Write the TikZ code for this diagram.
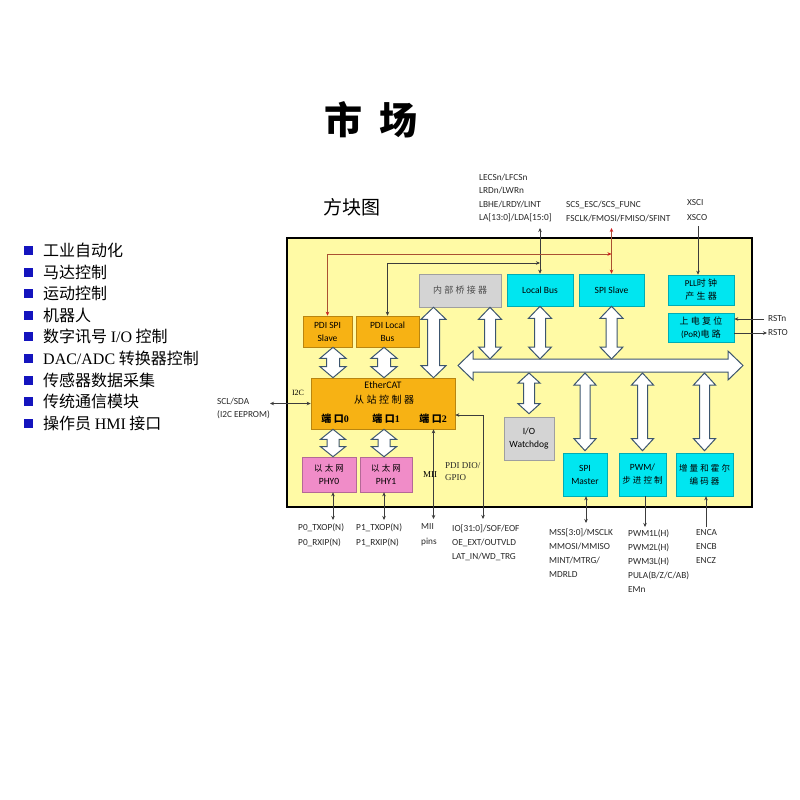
\documentclass[tikz,border=0pt]{standalone}
\usepackage{fontspec}
\setmainfont{Carlito}
\newfontfamily\cjk{Noto Sans CJK SC}
\newfontfamily\cjksp[LetterSpace=25]{Noto Sans CJK SC}
\newfontfamily\rmserif{Liberation Serif}
\usetikzlibrary{calc,arrows.meta}

\definecolor{bgyellow}{RGB}{255,250,165}
\definecolor{ecatorange}{RGB}{247,178,20}
\definecolor{ipcyan}{RGB}{0,230,240}
\definecolor{phypink}{RGB}{240,140,200}
\definecolor{ipgray}{RGB}{212,212,212}
\definecolor{arrowedge}{RGB}{60,85,110}
\definecolor{siggray}{RGB}{60,60,60}
\definecolor{sigbrown}{RGB}{170,80,50}
\definecolor{tipred}{RGB}{210,30,30}
\definecolor{labelgray}{RGB}{40,40,40}
\definecolor{bulletblue}{RGB}{20,20,190}

\tikzset{
  blockarrow/.style={draw=arrowedge, fill=white, line width=1pt, line join=miter},
  ipbox/.style={draw=#1!75!black, fill=#1, line width=0.6pt, inner sep=0pt,
    align=center, font=\fontsize{9.5}{13}\selectfont},
  sig/.style={draw=siggray, line width=0.6pt},
  redsig/.style={draw=sigbrown, line width=0.6pt,
    {Stealth[length=4pt,width=3.5pt,color=tipred]}-{Stealth[length=4pt,width=3.5pt,color=tipred]}},
  pinlabel/.style={anchor=north west, inner sep=0pt, align=left, text=labelgray,
    font=\fontsize{9.3}{14}\selectfont},
  listitem/.style={anchor=west, inner sep=0pt, font=\fontsize{16}{16}\selectfont\cjk,
    label={[fill=bulletblue, minimum size=9pt, inner sep=0pt, xshift=-10pt]left:{}}}
}

% outlined block arrows: first point gives x, second gives the other end
\newcommand{\vblkarrow}[5]{%
  \path[blockarrow] let \p1=#1, \p2=#2 in
    (\x1,\y1) -- (\x1+#4,\y1-#5) -- (\x1+#3,\y1-#5) -- (\x1+#3,\y2+#5)
    -- (\x1+#4,\y2+#5) -- (\x1,\y2) -- (\x1-#4,\y2+#5) -- (\x1-#3,\y2+#5)
    -- (\x1-#3,\y1-#5) -- (\x1-#4,\y1-#5) -- cycle;}
\newcommand{\hblkarrow}[5]{%
  \path[blockarrow] let \p1=#1, \p2=#2 in
    (\x1,\y1) -- (\x1+#5,\y1+#4) -- (\x1+#5,\y1+#3) -- (\x2-#5,\y1+#3)
    -- (\x2-#5,\y1+#4) -- (\x2,\y1) -- (\x2-#5,\y1-#4) -- (\x2-#5,\y1-#3)
    -- (\x1+#5,\y1-#3) -- (\x1+#5,\y1-#4) -- cycle;}

\begin{document}
\begin{tikzpicture}[x=1pt, y=-1pt, >={Stealth[length=4pt,width=3.5pt]}]
\useasboundingbox (0,0) rectangle (800,800);

% titles
\node[font=\fontsize{38}{38}\selectfont\cjk\bfseries] (title) at (371,120) {市\hspace{17pt}场};
\node[font=\fontsize{19}{19}\selectfont\cjk] (subtitle) at (352,207) {方块图};

% application list
\node[listitem] (app1) at (43,250.5) {工业自动化};
\node[listitem] (app2) at (43,272.1) {马达控制};
\node[listitem] (app3) at (43,293.7) {运动控制};
\node[listitem] (app4) at (43,315.3) {机器人};
\node[listitem] (app5) at (43,336.9) {数字讯号 {\rmserif I/O} 控制};
\node[listitem] (app6) at (43,358.5) {{\rmserif DAC/ADC} 转换器控制};
\node[listitem] (app7) at (43,380.1) {传感器数据采集};
\node[listitem] (app8) at (43,401.7) {传统通信模块};
\node[listitem] (app9) at (43,423.3) {操作员 {\rmserif HMI} 接口};

% chip outline
\draw[line width=2.5pt, fill=bgyellow] (287,238) rectangle (752,507);

% blocks
\node[ipbox=ecatorange, minimum width=49, minimum height=31] (pdispi) at (327.5,331.5) {PDI SPI\\Slave};
\node[ipbox=ecatorange, minimum width=63, minimum height=31] (pdilb) at (387.5,331.5) {PDI Local\\Bus};
\node[ipbox=ipgray, minimum width=82, minimum height=33, text=black!70] (bridge) at (460,290.5) {\fontsize{9}{12}\cjksp 内部桥接器};
\node[ipbox=ipcyan, minimum width=66, minimum height=32] (lbus) at (540,290) {Local Bus};
\node[ipbox=ipcyan, minimum width=65, minimum height=32] (spis) at (611.5,290) {SPI Slave};
\node[ipbox=ipcyan, minimum width=66, minimum height=30, font=\fontsize{9}{13}\selectfont] (pll) at (701,290) {PLL{\cjksp 时钟}\\{\cjksp 产生器}};
\node[ipbox=ipcyan, minimum width=66, minimum height=29, font=\fontsize{9}{13}\selectfont] (por) at (701,327.5) {{\cjksp 上电复位}\\(PoR){\cjksp 电路}};
\node[ipbox=ecatorange, minimum width=144, minimum height=51] (ecat) at (383,403.5) {};
\node[font=\fontsize{10}{10}\selectfont] (ecatname) at (383,385) {EtherCAT};
\node[font=\fontsize{10}{10}\selectfont\cjksp] (ecatsub) at (384,400) {从站控制器};
\node[font=\fontsize{10}{10}\selectfont\cjksp\bfseries] (port0) at (335,419) {端口{\rmserif\bfseries 0}};
\node[font=\fontsize{10}{10}\selectfont\cjksp\bfseries] (port1) at (386,419) {端口{\rmserif\bfseries 1}};
\node[font=\fontsize{10}{10}\selectfont\cjksp\bfseries] (port2) at (433,419) {端口{\rmserif\bfseries 2}};
\node[ipbox=phypink, minimum width=54, minimum height=35] (phy0) at (329,474.5) {{\fontsize{8.5}{12}\cjksp 以太网}\\PHY0};
\node[ipbox=phypink, minimum width=52, minimum height=35] (phy1) at (386,474.5) {{\fontsize{8.5}{12}\cjksp 以太网}\\PHY1};
\node[ipbox=ipgray, minimum width=50, minimum height=43] (wdog) at (529,438.5) {I/O\\Watchdog};
\node[ipbox=ipcyan, minimum width=44, minimum height=43] (spim) at (585,474.5) {SPI\\Master};
\node[ipbox=ipcyan, minimum width=47, minimum height=43] (pwm) at (642.5,474.5) {PWM/\\{\fontsize{8.5}{12}\cjksp 步进控制}};
\node[ipbox=ipcyan, minimum width=57, minimum height=43] (enc) at (704.5,474.5) {{\fontsize{8.5}{12}\cjksp 增量和霍尔}\\{\fontsize{8.5}{12}\cjksp 编码器}};

% internal bus and block arrows
\coordinate (busW) at (458,365.5);
\coordinate (busE) at (743,365.5);
\coordinate (bustop) at (458,359);
\coordinate (busbot) at (458,373);
\coordinate (p0pin) at (333,520);
\coordinate (p1pin) at (384,520);
\coordinate (miipin) at (433.5,519);
\hblkarrow{(busW)}{(busE)}{6.5pt}{14.5pt}{15pt}
\vblkarrow{(miipin |- bridge.south)}{(ecat.north)}{6pt}{12.5pt}{12pt}
\vblkarrow{([xshift=30pt]bridge.south)}{(bustop)}{5.5pt}{11.5pt}{12pt}
\vblkarrow{(lbus.south)}{(bustop)}{5.5pt}{11.5pt}{12pt}
\vblkarrow{(spis.south)}{(bustop)}{5.5pt}{11.5pt}{12pt}
\vblkarrow{(wdog.north |- busbot)}{([yshift=3pt]wdog.north)}{5.5pt}{11pt}{10pt}
\vblkarrow{(spim.north |- busbot)}{([yshift=2pt]spim.north)}{5pt}{11pt}{12pt}
\vblkarrow{(pwm.north |- busbot)}{([yshift=2pt]pwm.north)}{5pt}{11pt}{12pt}
\vblkarrow{(enc.north |- busbot)}{([yshift=2pt]enc.north)}{5pt}{11pt}{12pt}
\vblkarrow{(p0pin |- pdispi.south)}{(ecat.north)}{6.5pt}{13pt}{11pt}
\vblkarrow{(p1pin |- pdilb.south)}{(ecat.north)}{6.5pt}{13pt}{11pt}
\vblkarrow{(p0pin |- ecat.south)}{(phy0.north)}{6pt}{12.5pt}{10pt}
\vblkarrow{(p1pin |- ecat.south)}{(phy1.north)}{6pt}{12.5pt}{10pt}

% signal lines
\coordinate (lbpin) at (540,228);
\coordinate (spipin) at (611.5,228);
\coordinate (xscopin) at (698,226);
\coordinate (spitap) at (611.5,254);
\coordinate (lbtap) at (540,263);
\coordinate (rstnpin) at (764,319);
\coordinate (rstopin) at (767,333);
\coordinate (sclpin) at (270,403.5);
\coordinate (diopin) at (483,519);
\coordinate (smpin) at (586,523);
\coordinate (pwmpin) at (645,527);
\coordinate (encpin) at (706,527);
\draw[sig, <->] (lbpin) -- (lbus.north);
\draw[redsig] (spipin) -- (spis.north);
\draw[sig, ->] (xscopin) -- (xscopin |- pll.north);
\draw[redsig] (pdispi.north) |- (spitap);
\draw[sig, <->] (pdilb.north) |- (lbtap);
\draw[sig, ->] (rstnpin) -- (rstnpin -| por.east);
\draw[sig, ->] (rstopin -| por.east) -- (rstopin);
\draw[sig, <->] (sclpin) -- (ecat.west);
\draw[sig, <->] (p0pin |- phy0.south) -- (p0pin);
\draw[sig, <->] (p1pin |- phy1.south) -- (p1pin);
\draw[sig, <->] (miipin |- ecat.south) -- (miipin);
\draw[sig, <->] ([yshift=-11.5pt]ecat.east) -| (diopin);
\draw[sig, <->] (smpin |- spim.south) -- (smpin);
\draw[sig, ->] (pwmpin |- pwm.south) -- (pwmpin);
\draw[sig, ->] (encpin) -- (encpin |- enc.south);

% pin names
\node[pinlabel, font=\fontsize{9.3}{13.5}\selectfont] (lbsig) at (479,173.5) {LECSn/LFCSn\\LRDn/LWRn\\LBHE/LRDY/LINT\\LA[13:0]/LDA[15:0]};
\node[pinlabel] (spisig) at (566,201) {SCS\_ESC/SCS\_FUNC\\FSCLK/FMOSI/FMISO/SFINT};
\node[pinlabel, font=\fontsize{9.3}{15}\selectfont] (xsig) at (687,199) {XSCI\\XSCO};
\node[pinlabel, anchor=west] (rstn) at (768,319) {RSTn};
\node[pinlabel, anchor=west] (rsto) at (768,333) {RSTO};
\node[pinlabel, font=\fontsize{9.3}{12.5}\selectfont] (sclsig) at (217,398) {SCL/SDA\\(I2C EEPROM)};
\node[font=\fontsize{8}{8}\selectfont\rmserif, inner sep=0pt] (i2c) at (298,393) {I2C};
\node[font=\fontsize{9}{9}\selectfont\rmserif, inner sep=0pt, anchor=west] (mii) at (423,475) {MII};
\node[pinlabel, font=\fontsize{9}{11.5}\selectfont\rmserif] (pdidio) at (445,462.5) {PDI DIO/\\GPIO};
\node[pinlabel, font=\fontsize{9.3}{15}\selectfont] (p0sig) at (298,523) {P0\_TXOP(N)\\P0\_RXIP(N)};
\node[pinlabel, font=\fontsize{9.3}{15}\selectfont] (p1sig) at (356,523) {P1\_TXOP(N)\\P1\_RXIP(N)};
\node[pinlabel, font=\fontsize{9.3}{15}\selectfont] (miisig) at (421,523) {MII\\pins};
\node[pinlabel] (iosig) at (452,525) {IO[31:0]/SOF/EOF\\OE\_EXT/OUTVLD\\LAT\_IN/WD\_TRG};
\node[pinlabel] (mssig) at (549,529) {MSS[3:0]/MSCLK\\MMOSI/MMISO\\MINT/MTRG/\\MDRLD};
\node[pinlabel] (pwmsig) at (628,529) {PWM1L(H)\\PWM2L(H)\\PWM3L(H)\\PULA(B/Z/C/AB)\\EMn};
\node[pinlabel] (encsig) at (696,529) {ENCA\\ENCB\\ENCZ};
\end{tikzpicture}
\end{document}
